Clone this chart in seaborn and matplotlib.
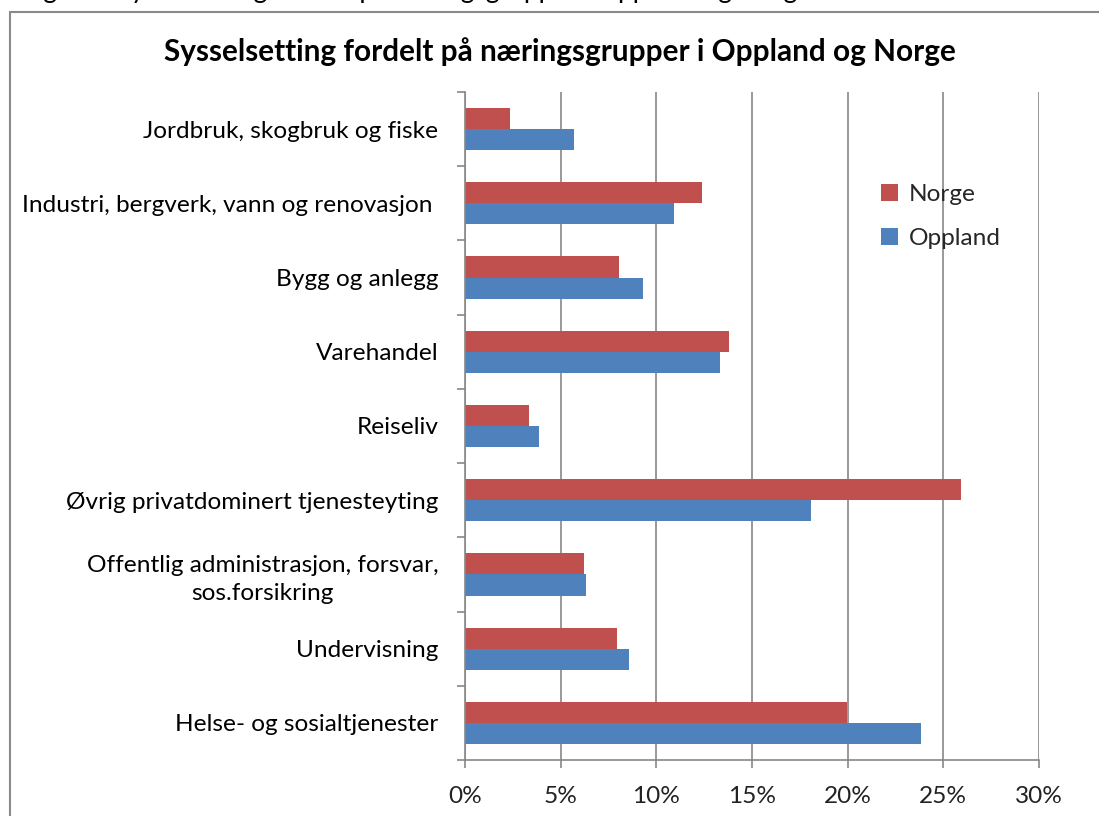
import numpy as np
import pandas as pd
import matplotlib
matplotlib.use("Agg")
import matplotlib.pyplot as plt
from matplotlib.lines import Line2D
from matplotlib.patches import Patch
import seaborn as sns

categories = [
    "Jordbruk, skogbruk og fiske",
    "Industri, bergverk, vann og renovasjon ",
    "Bygg og anlegg",
    "Varehandel",
    "Reiseliv",
    "Øvrig privatdominert tjenesteyting",
    "Offentlig administrasjon, forsvar,\nsos.forsikring",
    "Undervisning",
    "Helse- og sosialtjenester",
]
norge = [2.37, 12.4, 8.05, 13.8, 3.37, 25.9, 6.2, 7.95, 19.95]
oppland = [5.71, 10.9, 9.3, 13.35, 3.85, 18.1, 6.3, 8.55, 23.85]
series = ["Norge", "Oppland"]
colors = ["#C0504D", "#4F81BD"]
xticks = [0, 5, 10, 15, 20, 25, 30]
xticklabels = ["0%", "5%", "10%", "15%", "20%", "25%", "30%"]

df = pd.DataFrame({
    "kategori": categories * 2,
    "serie": ["Norge"] * len(categories) + ["Oppland"] * len(categories),
    "andel": norge + oppland,
})

sns.set_theme(style="white")
plt.rcParams["font.family"] = ["Lato", "DejaVu Sans"]

W, H = 1099, 816
fig = plt.figure(figsize=(W / 100, H / 100), dpi=100)
ax = fig.add_axes([465 / W, 1 - 760 / H, (1039 - 465) / W, (760 - 92) / H])

sns.barplot(data=df, y="kategori", x="andel", hue="serie", order=categories,
            hue_order=series, palette=colors, orient="h", width=0.57,
            linewidth=0, saturation=1, ax=ax, legend=False)

ax.set_xlim(0, 30)
ax.set_ylim(len(categories) - 0.5, -0.5)
ax.set_xticks(xticks)
ax.set_xticklabels(xticklabels)
ax.set_xlabel("")
ax.set_ylabel("")

grid_c = "#878787"
ax.set_axisbelow(True)
ax.xaxis.grid(True, color=grid_c, linewidth=1.2)
ax.yaxis.grid(False)
for s in ["top", "right"]:
    ax.spines[s].set_visible(False)
for s in ["left", "bottom"]:
    ax.spines[s].set_visible(True)
    ax.spines[s].set_color(grid_c)
    ax.spines[s].set_linewidth(1.2)

lab_fs = 17.6
ax.set_yticks(np.arange(-0.5, len(categories), 1.0), minor=True)
ax.tick_params(axis="y", which="major", length=0, pad=19, labelsize=lab_fs, labelcolor="#000000")
ax.tick_params(axis="y", which="minor", length=6, width=1.2, color=grid_c, direction="out")
ax.tick_params(axis="x", which="major", length=6, width=1.2, color=grid_c, direction="out",
               pad=13, labelsize=lab_fs, labelcolor="#222222")
ax.tick_params(axis="x", bottom=True)
ax.tick_params(axis="y", left=True, which="minor")
for lab in ax.get_yticklabels():
    lab.set_multialignment("center")
    lab.set_linespacing(1.4)

fig.text(560 / W, 1 - 52 / H, "Sysselsetting fordelt på næringsgrupper i Oppland og Norge",
         ha="center", va="center", fontsize=21.4, fontweight="bold", color="#000000")

# caption of the document, cut off at the top edge (as in the reference)
fig.text(22 / W, 1 + 1.5 / H, "Figur 3: Sysselsetting fordelt på næringsgrupper i Oppland og Norge",
         ha="left", va="baseline", fontsize=19, color="#000000")

handles = [Patch(facecolor=c, edgecolor="none") for c in colors]
fig.legend(handles, series, loc="upper left", bbox_to_anchor=(881 / W, 1 - 184 / H),
           frameon=False, fontsize=lab_fs, handlelength=0.7, handleheight=0.7,
           handletextpad=0.45, labelspacing=0.95, borderaxespad=0, borderpad=0)

# outer chart frame (partly cut off)
frame_c = "#8a8a8a"
fig.add_artist(Line2D([9.5 / W, 9.5 / W], [0, 1 - 11.5 / H], transform=fig.transFigure,
                      color=frame_c, linewidth=1.5))
fig.add_artist(Line2D([9.5 / W, 1], [1 - 11.5 / H, 1 - 11.5 / H], transform=fig.transFigure,
                      color=frame_c, linewidth=1.5))

fig.savefig("out.png", dpi=100)
